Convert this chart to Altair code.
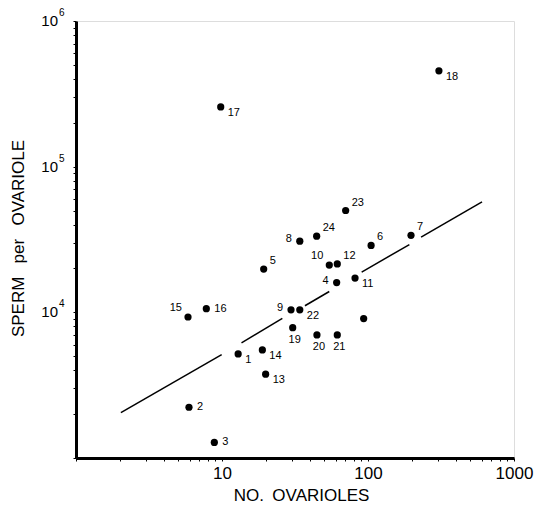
import altair as alt
import pandas as pd

# data
labels = ["1", "2", "3", "4", "5", "6", "7", "8", "9", "10", "11", "12",
          "13", "14", "15", "16", "17", "18", "19", "20", "21", "22", "23", "24", ""]
ovarioles = [12.9, 5.94, 8.86, 61, 19.3, 105, 197, 34.1, 29.7, 54.3, 81.5, 61.6,
             19.9, 18.9, 5.85, 7.81, 9.8, 306, 30.5, 44.7, 61.6, 34.1, 70.3, 44.5, 93.4]
sperm = [5180, 2230, 1280, 16000, 19800, 28800, 33800, 30800, 10400, 21100, 17200, 21500,
         3760, 5520, 9290, 10600, 257000, 455000, 7850, 7000, 7000, 10400, 50000, 33300, 9060]
label_side = ["se", "e", "e", "w", "ne", "ne", "ne", "w", "w", "nw", "se", "ne",
              "se", "se", "nw", "e", "se", "se", "s", "s", "s", "se", "ne", "ne", "none"]

# fitted line, drawn in broken pieces as in the figure
line_piece = [1, 1, 2, 2, 3, 3, 4, 4, 5, 5]
line_x = [2.03, 9.95, 13.6, 25.9, 37.0, 54.3, 90.5, 192, 231, 604]
line_y = [2050, 5130, 6180, 9100, 11100, 13900, 18900, 29200, 32800, 57300]

# y tick labels: base and exponent
y_label_values = [10000, 100000, 1000000]
y_label_base = ["10", "10", "10"]
y_label_exp = ["4", "5", "6"]

y_ticks = [1000 * m for m in range(1, 10)] + [10000 * m for m in range(1, 10)] + \
          [100000 * m for m in range(1, 11)]
x_ticks = [m for m in range(1, 10)] + [10 * m for m in range(1, 10)] + \
          [100 * m for m in range(1, 11)]

pts = pd.DataFrame({"x": ovarioles, "y": sperm, "label": labels, "side": label_side})
fit = pd.DataFrame({"x": line_x, "y": line_y, "piece": line_piece})
ylab = pd.DataFrame({"x": [1, 1, 1], "y": y_label_values, "base": y_label_base, "exp": y_label_exp})

FONT = "Liberation Sans"

xscale = alt.Scale(type="log", domain=[1, 1000])
yscale = alt.Scale(type="log", domain=[1000, 1000000])

xaxis = alt.Axis(
    values=x_ticks,
    labelExpr="datum.value == 10 ? '10' : datum.value == 100 ? '100' : datum.value == 1000 ? '1000' : ''",
    title="NO.\u2002OVARIOLES", titleFont=FONT, titleFontSize=17, titleFontWeight="normal",
    titleColor="black", titleX=225, titleY=37, titleBaseline="middle", titleAlign="center",
    labelFont=FONT, labelFontSize=17, labelColor="black", labelPadding=4,
    domainColor="black", domainWidth=3, tickColor="black", tickWidth=1, tickSize=3,
    grid=False, labelFlush=False, labelOverlap=False,
)
yaxis = alt.Axis(
    values=y_ticks, labels=False,
    title="SPERM\u2002\u00a0per\u2002\u00a0OVARIOLE", titleFont=FONT, titleFontSize=17,
    titleFontWeight="normal", titleColor="black",
    titleX=-58, titleY=217, titleAngle=-90, titleBaseline="middle", titleAlign="center",
    domainColor="black", domainWidth=3, tickColor="black", tickWidth=1, tickSize=3,
    grid=False,
)

base = alt.Chart(pts)

points = base.mark_circle(size=52, color="black", opacity=1).encode(
    x=alt.X("x:Q", scale=xscale, axis=xaxis),
    y=alt.Y("y:Q", scale=yscale, axis=yaxis),
)

line = alt.Chart(fit).mark_line(color="black", strokeWidth=1.5).encode(
    x=alt.X("x:Q", scale=xscale),
    y=alt.Y("y:Q", scale=yscale),
    detail="piece:N",
)

ybase = alt.Chart(ylab).mark_text(
    font=FONT, fontSize=15, color="black", align="right", baseline="middle", dx=-18, dy=0
).encode(x=alt.X("x:Q", scale=xscale), y=alt.Y("y:Q", scale=yscale), text="base:N")

yexp = alt.Chart(ylab).mark_text(
    font=FONT, fontSize=10, color="black", align="left", baseline="middle", dx=-17, dy=-8
).encode(x=alt.X("x:Q", scale=xscale), y=alt.Y("y:Q", scale=yscale), text="exp:N")

offsets = {
    "ne": dict(align="left", dx=6, dy=-8),
    "e": dict(align="left", dx=8, dy=0),
    "se": dict(align="left", dx=7, dy=6),
    "w": dict(align="right", dx=-8, dy=-2),
    "nw": dict(align="right", dx=-6, dy=-9),
    "s": dict(align="center", dx=2, dy=12),
}

texts = []
for side, kw in offsets.items():
    texts.append(
        base.transform_filter(alt.datum.side == side)
        .mark_text(font=FONT, fontSize=11, color="black", baseline="middle", **kw)
        .encode(x=alt.X("x:Q", scale=xscale), y=alt.Y("y:Q", scale=yscale), text="label:N")
    )

chart = alt.layer(line, points, ybase, yexp, *texts).properties(
    width=438, height=437,
    autosize=alt.AutoSizeParams(type="none"),
    padding={"left": 68, "top": 13, "right": 20, "bottom": 50},
).configure_view(stroke=None).configure(background="white")

chart.save("out.html", embed_options={"renderer": "svg", "actions": False})
